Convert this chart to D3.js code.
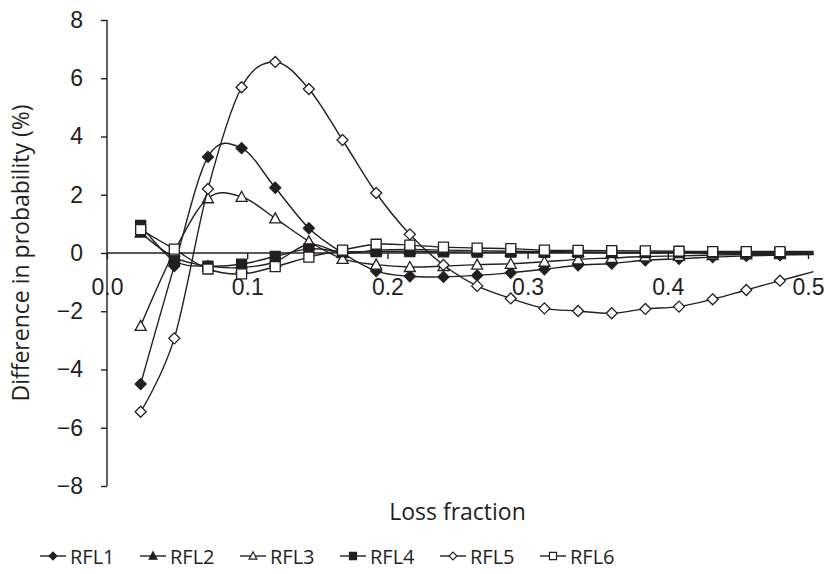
<!DOCTYPE html>
<html lang="en">
<head>
    <meta charset="UTF-8">
    <title>Difference in probability by loss fraction</title>
    <script src="https://d3js.org/d3.v7.min.js"></script>
    <style>
        html, body { margin: 0; padding: 0; background: #fff; }
        svg { display: block; font-family: "Open Sans", sans-serif; }
        .axis path, .axis line { stroke: #231f20; stroke-width: 1.4; }
        .axis text { font-size: 23px; fill: #231f20; }
    </style>
</head>
<body>
    <svg id="chart"></svg>
    <script>
    // Loss fraction values (data points)
    const lossFraction = [0.024, 0.048, 0.072, 0.096, 0.12, 0.144, 0.168, 0.192, 0.216, 0.24,
        0.264, 0.288, 0.312, 0.336, 0.36, 0.384, 0.408, 0.432, 0.456, 0.48, 0.504];

    // Difference in probability (%) for each series
    const rfl1 = [-4.5, -0.45, 3.3, 3.6, 2.24, 0.85, 0.0, -0.62, -0.8, -0.82, -0.77, -0.68, -0.56,
        -0.42, -0.36, -0.25, -0.2, -0.14, -0.1, -0.07, -0.05];
    const rfl2 = [0.7, -0.15, -0.45, -0.5, -0.3, 0.3, 0.0, 0.1, 0.12, 0.1, 0.08, 0.06, 0.05,
        0.04, 0.03, 0.02, 0.02, 0.01, 0.01, 0.01, 0.0];
    const rfl3 = [-2.5, 0.05, 1.88, 1.93, 1.19, 0.4, -0.2, -0.4, -0.48, -0.45, -0.4, -0.37, -0.3,
        -0.22, -0.17, -0.12, -0.1, -0.07, -0.05, -0.04, -0.03];
    const rfl4 = [0.95, -0.27, -0.45, -0.38, -0.12, 0.14, 0.05, 0.05, 0.05, 0.04, 0.03, 0.03, 0.02,
        0.02, 0.01, 0.01, 0.01, 0.0, 0.0, 0.0, 0.0];
    const rfl5 = [-5.45, -2.93, 2.2, 5.69, 6.56, 5.63, 3.88, 2.06, 0.64, -0.41, -1.13, -1.56, -1.9,
        -1.99, -2.07, -1.92, -1.84, -1.59, -1.27, -0.95, -0.64];
    const rfl6 = [0.8, 0.13, -0.55, -0.72, -0.47, -0.14, 0.1, 0.3, 0.27, 0.2, 0.17, 0.15, 0.1,
        0.09, 0.08, 0.07, 0.06, 0.05, 0.05, 0.05, 0.05];

    const seriesNames = ["RFL1", "RFL2", "RFL3", "RFL4", "RFL5", "RFL6"];
    const seriesValues = [rfl1, rfl2, rfl3, rfl4, rfl5, rfl6];
    const xTicks = [0, 0.1, 0.2, 0.3, 0.4, 0.5];
    const yTicks = [-8, -6, -4, -2, 0, 2, 4, 6, 8];

    // square-ish diamond (rotated square), size = bounding box width squared
    const diamond = {
        draw(ctx, size) {
            const r = Math.sqrt(size) / 2;
            ctx.moveTo(0, -r);
            ctx.lineTo(r, 0);
            ctx.lineTo(0, r);
            ctx.lineTo(-r, 0);
            ctx.closePath();
        }
    };
    const square = {
        draw(ctx, size) {
            const r = Math.sqrt(size) / 2;
            ctx.rect(-r, -r, 2 * r, 2 * r);
        }
    };
    const triangle = {
        draw(ctx, size) {
            const w = Math.sqrt(size) / 2 * 1.1, h = Math.sqrt(size) * 0.45;
            ctx.moveTo(0, -h - 1);
            ctx.lineTo(w, h);
            ctx.lineTo(-w, h);
            ctx.closePath();
        }
    };

    // marker shape, size (px^2) and fill per series
    const markerStyle = {
        RFL1: { shape: diamond, size: 121, fill: "#231f20" },
        RFL2: { shape: triangle, size: 100, fill: "#231f20" },
        RFL3: { shape: triangle, size: 100, fill: "#fff" },
        RFL4: { shape: square, size: 100, fill: "#231f20" },
        RFL5: { shape: diamond, size: 121, fill: "#fff" },
        RFL6: { shape: square, size: 100, fill: "#fff" }
    };

    const width = 836, height = 574;
    const svg = d3.select("#chart").attr("width", width).attr("height", height);

    const x = d3.scaleLinear().domain([0, 0.5]).range([107, 808]);
    const y = d3.scaleLinear().domain([-8, 8]).range([486, 20]);

    const fmtY = d => d < 0 ? "\u2212" + Math.abs(d) : String(d);

    // y axis
    const yAxis = svg.append("g")
        .attr("class", "axis")
        .attr("transform", `translate(${x(0)},0)`)
        .call(d3.axisLeft(y).tickValues(yTicks).tickFormat(fmtY).tickSize(6).tickPadding(18).tickSizeOuter(0));
    yAxis.select(".domain").attr("d", `M0,${y(8)}V${y(-8)}`);

    // x axis sits on zero line
    const xAxis = svg.append("g")
        .attr("class", "axis")
        .attr("transform", `translate(0,${y(0)})`)
        .call(d3.axisBottom(x).tickValues(xTicks).tickFormat(d3.format(".1f")).tickSize(6).tickPadding(20).tickSizeOuter(0));
    xAxis.select(".domain").attr("d", `M${x(0)},0H${x(0.5)}`);

    // axis titles
    svg.append("text")
        .attr("transform", `translate(20,${(y(8) + y(-8)) / 2}) rotate(-90)`)
        .attr("text-anchor", "middle")
        .attr("dominant-baseline", "central")
        .style("font-size", "23px")
        .attr("fill", "#231f20")
        .text("Difference in probability (%)");

    svg.append("text")
        .attr("x", (x(0) + x(0.5)) / 2)
        .attr("y", 520)
        .attr("text-anchor", "middle")
        .style("font-size", "23px")
        .attr("fill", "#231f20")
        .text("Loss fraction");

    // series lines (smoothed)
    const line = d3.line()
        .x((d, i) => x(lossFraction[i]))
        .y(d => y(d))
        .curve(d3.curveCardinal.tension(0));

    const groups = svg.selectAll("g.series")
        .data(seriesNames)
        .enter().append("g")
        .attr("class", "series");

    groups.append("path")
        .attr("d", (name, i) => line(seriesValues[i]))
        .attr("fill", "none")
        .attr("stroke", "#231f20")
        .attr("stroke-width", 1.4);

    groups.each(function(name, i) {
        const g = d3.select(this);
        const st = markerStyle[name];
        const sym = d3.symbol().type(st.shape).size(st.size);
        g.selectAll("path.marker")
            .data(seriesValues[i].filter((v, j) => lossFraction[j] <= 0.5))
            .enter().append("path")
            .attr("class", "marker")
            .attr("d", sym)
            .attr("transform", (v, j) => `translate(${x(lossFraction[j])},${y(v)})`)
            .attr("fill", st.fill)
            .attr("stroke", "#231f20")
            .attr("stroke-width", 1.3);
    });

    // legend
    const legend = svg.append("g").attr("transform", "translate(40,556)");
    seriesNames.forEach((name, i) => {
        const st = markerStyle[name];
        const lg = legend.append("g").attr("transform", `translate(${i * 100},0)`);
        lg.append("line")
            .attr("x1", 0).attr("x2", 26)
            .attr("y1", 0).attr("y2", 0)
            .attr("stroke", "#231f20")
            .attr("stroke-width", 1.4);
        lg.append("path")
            .attr("d", d3.symbol().type(st.shape).size(st.size * 0.5))
            .attr("transform", "translate(13,0)")
            .attr("fill", st.fill)
            .attr("stroke", "#231f20")
            .attr("stroke-width", 1.2);
        lg.append("text")
            .attr("x", 30)
            .attr("y", 0)
            .attr("dominant-baseline", "central")
            .style("font-size", "20px")
            .attr("fill", "#231f20")
            .text(name);
    });
    </script>
</body>
</html>
